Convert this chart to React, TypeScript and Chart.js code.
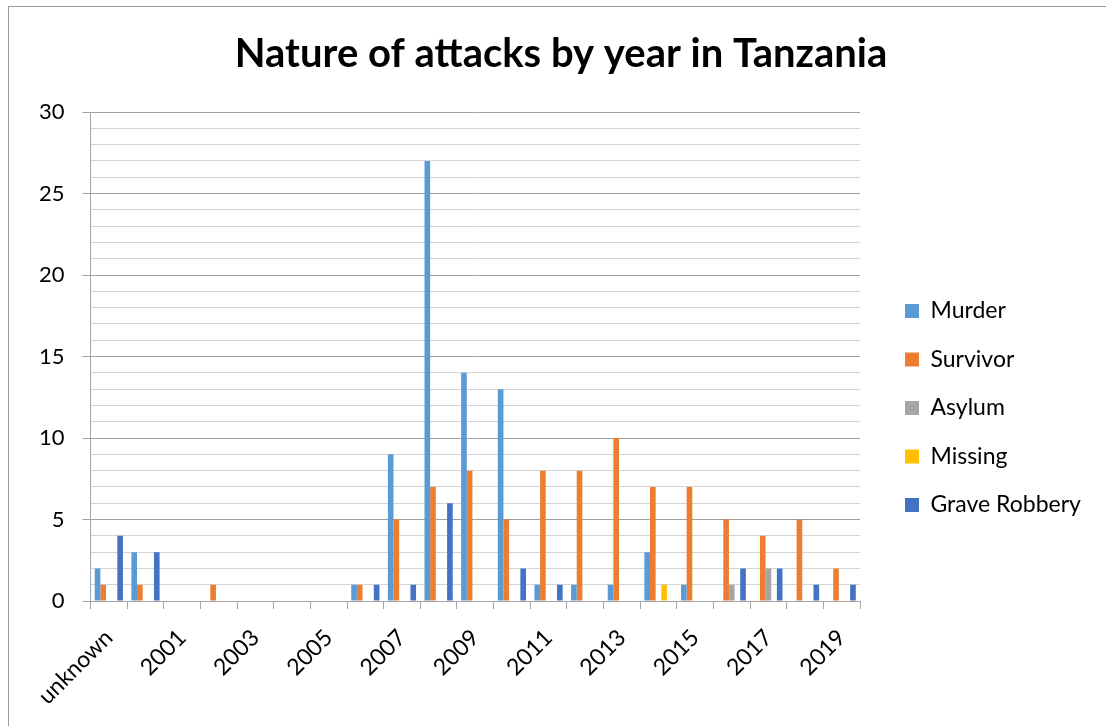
import React, { useEffect, useRef } from "react";
import { Chart, registerables } from "chart.js";

Chart.register(...registerables);

const categories = [
  "unknown", "2000", "2001", "2002", "2003", "2004", "2005", "2006", "2007", "2008",
  "2009", "2010", "2011", "2012", "2013", "2014", "2015", "2016", "2017", "2018", "2019",
];
const murder = [2, 3, 0, 0, 0, 0, 0, 1, 9, 27, 14, 13, 1, 1, 1, 3, 1, 0, 0, 0, 0];
const survivor = [1, 1, 0, 1, 0, 0, 0, 1, 5, 7, 8, 5, 8, 8, 10, 7, 7, 5, 4, 5, 2];
const asylum = [0, 0, 0, 0, 0, 0, 0, 0, 0, 0, 0, 0, 0, 0, 0, 0, 0, 1, 2, 0, 0];
const missing = [0, 0, 0, 0, 0, 0, 0, 0, 0, 0, 0, 0, 0, 0, 0, 1, 0, 0, 0, 0, 0];
const graveRobbery = [4, 3, 0, 0, 0, 0, 0, 1, 1, 6, 0, 2, 1, 0, 0, 0, 0, 2, 2, 1, 1];

const seriesNames = ["Murder", "Survivor", "Asylum", "Missing", "Grave Robbery"];
const seriesColors = ["#5B9BD5", "#ED7D31", "#A5A5A5", "#FFC000", "#4472C4"];
const yTicksMajor = [0, 5, 10, 15, 20, 25, 30];

const TITLE = "Nature of attacks by year in Tanzania";
const FONT = "Lato";
const TICK_SIZE = 22;
const XTICK_SIZE = 23;
const LEGEND_SIZE = 23;
const LEGEND_PAD = 25.5;
const LEGEND_BOX_X = 905;
const PLOT_RIGHT = 860;
const TITLE_CENTER_X = 561;

export default function App() {
  const ref = useRef<HTMLCanvasElement | null>(null);

  useEffect(() => {
    document.body.style.margin = "0";
    const canvas = ref.current!;
    const mctx = document.createElement("canvas").getContext("2d")!;
    mctx.font = `${LEGEND_SIZE}px ${FONT}`;
    const widest = Math.max(...seriesNames.map((s) => mctx.measureText(s).width));
    const legendWidth = LEGEND_PAD + 14 + LEGEND_SIZE / 2 + widest + 10;
    const rightPad = 1106 - PLOT_RIGHT - legendWidth;

    const placement = {
      id: "placement",
      afterLayout(chart: any) {
        const l = chart.legend;
        if (l) {
          const dx = LEGEND_BOX_X - (l.left + LEGEND_PAD);
          l.left += dx;
          l.right += dx;
        }
        const t = chart.titleBlock;
        if (t) {
          const dx = TITLE_CENTER_X - (t.left + t.right) / 2;
          t.left += dx;
          t.right += dx;
        }
      },
    };

    const datasets = [murder, survivor, asylum, missing, graveRobbery].map((d, i) => ({
      label: seriesNames[i],
      data: d,
      backgroundColor: seriesColors[i],
      borderWidth: 0,
      categoryPercentage: 0.77,
      barPercentage: 1,
    }));

    const chart = new Chart(canvas, {
      type: "bar",
      data: { labels: categories, datasets },
      plugins: [placement],
      options: {
        animation: false,
        responsive: false,
        layout: { padding: { left: 21, right: rightPad, top: 0, bottom: 1 } },
        plugins: {
          title: {
            display: true,
            text: TITLE,
            color: "#000",
            font: { family: FONT, size: 40, weight: "bold" },
            padding: { top: 30, bottom: 34 },
          },
          legend: {
            position: "right",
            title: { display: true, text: " ", font: { family: FONT, size: 12 }, padding: { top: 0, bottom: 76.6 } },
            labels: {
              boxWidth: 14,
              boxHeight: 14,
              padding: LEGEND_PAD,
              color: "#000",
              font: { family: FONT, size: LEGEND_SIZE },
            },
          },
          tooltip: { enabled: false },
        },
        scales: {
          x: {
            grid: {
              drawOnChartArea: false,
              drawTicks: true,
              tickLength: 8,
              color: "#a6a6a6",
              offset: true,
            },
            border: { color: "#a6a6a6" },
            ticks: {
              autoSkip: false,
              maxRotation: 45,
              minRotation: 45,
              padding: 15,
              color: "#000",
              font: { family: FONT, size: XTICK_SIZE },
              callback: (_v: any, i: number) => (i % 2 === 0 ? categories[i] : ""),
            },
          },
          y: {
            min: 0,
            max: 30,
            ticks: {
              stepSize: 1,
              autoSkip: false,
              padding: 18,
              color: "#000",
              font: { family: FONT, size: TICK_SIZE },
              callback: (v: any) => (yTicksMajor.includes(Number(v)) ? String(v) : ""),
            },
            grid: {
              color: (c: any) => (yTicksMajor.includes(c.tick?.value) ? "#a0a0a0" : "#d4d4d4"),
              tickColor: (c: any) => (yTicksMajor.includes(c.tick?.value) ? "#a0a0a0" : "rgba(0,0,0,0)"),
              tickLength: 8,
            },
            border: { color: "#a6a6a6" },
          },
        },
      } as any,
    });
    return () => chart.destroy();
  }, []);

  return (
    <div style={{ position: "fixed", left: 0, top: 0, width: 1106, height: 726, overflow: "hidden", background: "#fff" }}>
      <div
        style={{
          position: "absolute",
          left: 8,
          top: 6,
          width: 1200,
          height: 800,
          borderLeft: "1px solid #9a9a9a",
          borderTop: "1px solid #9a9a9a",
        }}
      />
      <canvas ref={ref} width={1106} height={726} style={{ position: "absolute", left: 0, top: 0, width: 1106, height: 726 }} />
    </div>
  );
}
